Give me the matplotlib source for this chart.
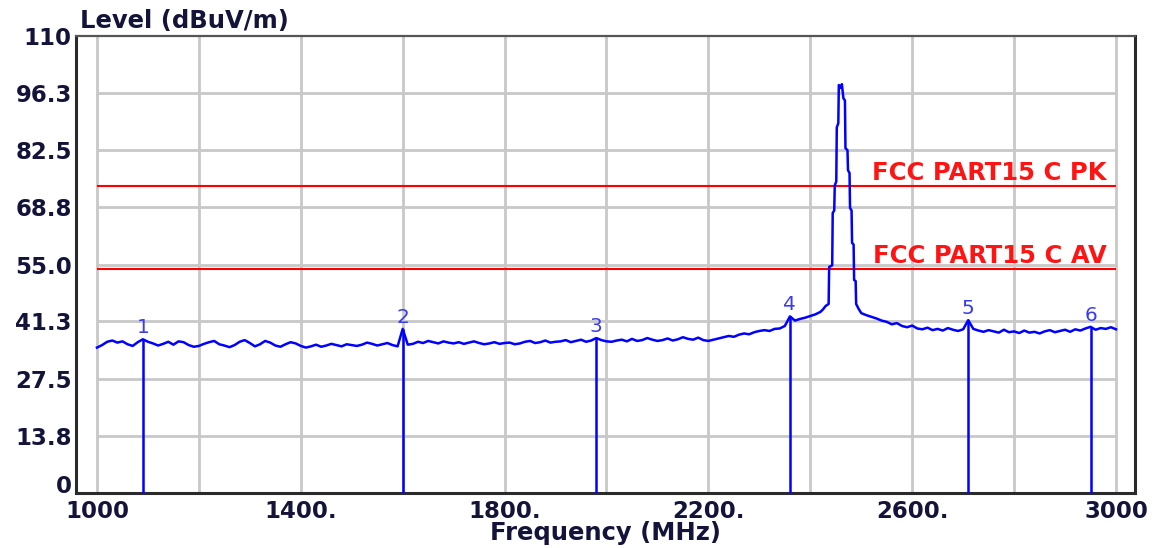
import numpy as np
import matplotlib
matplotlib.use('Agg')
import matplotlib.pyplot as plt

# limit lines (dBuV/m)
limit_names = ['FCC PART15 C PK', 'FCC PART15 C AV']
limit_levels = [74.0, 54.0]

# marker readings
marker_freq = [1090, 1600, 1980, 2360, 2710, 2950]
marker_level = [37.0, 39.5, 37.3, 42.5, 41.6, 40.0]

# sweep below the carrier, 10 MHz steps
low_freq = np.arange(1000, 2421, 10)
low_level = [
    35.0, 35.6, 36.4, 36.7, 36.2, 36.5, 35.8, 35.4, 36.3, 37.0,
    36.4, 36.0, 35.5, 35.9, 36.4, 35.7, 36.5, 36.3, 35.6, 35.2,
    35.4, 35.9, 36.3, 36.6, 35.8, 35.5, 35.1, 35.6, 36.4, 36.8,
    36.1, 35.3, 35.8, 36.6, 36.2, 35.5, 35.2, 35.8, 36.3, 36.0,
    35.4, 35.0, 35.3, 35.7, 35.2, 35.5, 35.9, 35.6, 35.3, 35.8,
    35.6, 35.4, 35.7, 36.2, 35.9, 35.5, 35.8, 36.1, 35.6, 35.3,
    39.5, 35.7, 35.9, 36.4, 36.1, 36.6, 36.3, 36.0, 36.5, 36.2,
    36.0, 36.3, 35.9, 36.2, 36.5, 36.1, 35.8, 36.0, 36.3, 35.9,
    36.1, 36.2, 35.8, 36.0, 36.4, 36.6, 36.1, 36.3, 36.7, 36.2,
    36.4, 36.5, 36.8, 36.3, 36.6, 36.9, 36.4, 36.7, 37.3, 36.8,
    36.5, 36.4, 36.7, 36.9, 36.5, 37.1, 36.6, 36.8, 37.3, 36.9,
    36.6, 36.8, 37.2, 36.7, 37.0, 37.5, 37.1, 36.9, 37.4, 36.8,
    36.6, 36.9, 37.2, 37.5, 37.8, 37.6, 38.1, 38.4, 38.2, 38.7,
    39.0, 39.2, 39.0, 39.5, 39.6, 40.2, 42.5, 41.5, 41.9, 42.2,
    42.6, 43.0, 43.6,
]

# 2.4 GHz carrier
peak_freq = [2425, 2430, 2436, 2437, 2443, 2444, 2447, 2448, 2451, 2452,
             2455, 2456, 2460, 2462, 2465, 2468, 2469, 2473, 2474, 2477,
             2478, 2481, 2482, 2485, 2486, 2489, 2490, 2495]
peak_level = [44.2, 45.0, 45.5, 54.4, 54.8, 67.4, 68.0, 74.0, 75.0, 88.0,
              89.0, 98.2, 97.5, 98.4, 95.0, 94.5, 83.0, 82.5, 77.7, 77.0,
              68.6, 68.0, 60.2, 59.8, 51.3, 51.0, 45.5, 44.3]

# sweep above the carrier, 10 MHz steps
high_freq = np.arange(2500, 3001, 10)
high_level = [
    43.3, 42.8, 42.4, 42.0, 41.5, 41.2, 40.6, 40.9, 40.2, 39.9,
    40.3, 39.6, 39.4, 39.8, 39.2, 39.5, 39.1, 39.7, 39.3, 39.0,
    39.4, 41.6, 39.5, 39.1, 38.8, 39.2, 38.9, 38.6, 39.3, 38.7,
    38.9, 38.5, 39.1, 38.6, 38.8, 38.4, 38.9, 39.2, 38.7, 39.0,
    39.3, 38.8, 39.4, 39.1, 39.6, 40.0, 39.3, 39.7, 39.5, 39.9,
    39.4,
]

y_ticks = [0, 13.8, 27.5, 41.3, 55.0, 68.8, 82.5, 96.3, 110]
y_tick_labels = ['0', '13.8', '27.5', '41.3', '55.0', '68.8', '82.5', '96.3', '110']
x_grid = list(range(1000, 3001, 200))
x_ticks = [1000, 1400, 1800, 2200, 2600, 3000]
x_tick_labels = ['1000', '1400.', '1800.', '2200.', '2600.', '3000']

text_col = '#14143a'
trace_col = '#0000ff'

freq = np.concatenate([low_freq, peak_freq, high_freq])
level = np.concatenate([low_level, peak_level, high_level])

fig = plt.figure(figsize=(11.61, 5.48), dpi=100)
W, H = 1161, 548
ax = fig.add_axes([76 / W, 1 - 493 / H, (1135 - 76) / W, (493 - 36) / H])
ax.set_xlim(958.8, 3037.3)
ax.set_ylim(0, 110)

# grid only spans the swept range
ax.vlines(x_grid, 0, 110, colors='#c8c8c8', lw=2, zorder=0)
ax.hlines(y_ticks[1:-1], 1000, 3000, colors='#c8c8c8', lw=2, zorder=0)

# limits
for name, lim in zip(limit_names, limit_levels):
    ax.hlines(lim, 1000, 3000, colors='#ff0000', lw=1.5, zorder=2)
    ax.text(2982, lim + 1.4, name, color='#ff1414', fontsize=17.5,
            fontweight='bold', ha='right', va='baseline', zorder=3)

ax.plot(freq, level, color=trace_col, lw=1.8, zorder=4)

# markers
for i, (f, lv) in enumerate(zip(marker_freq, marker_level)):
    ax.vlines(f, 0, lv, colors=trace_col, lw=1.8, zorder=5)
    ax.annotate(str(i + 1), (f, lv), xytext=(0, 4.5), textcoords='offset points',
                ha='center', va='baseline', color='#3a3af0', fontsize=14.5)

ax.set_yticks(y_ticks)
ax.set_yticklabels(y_tick_labels)
ax.set_xticks(x_ticks)
ax.set_xticklabels(x_tick_labels)
ax.tick_params(length=0, labelsize=16.5, labelcolor=text_col)
ax.tick_params(axis='y', pad=3)
ax.tick_params(axis='x', pad=5)
for lab in ax.get_xticklabels() + ax.get_yticklabels():
    lab.set_fontweight('bold')
# the 0 label sits on the axis line, clear of the x labels
ax.get_yticklabels()[0].set_verticalalignment('baseline')

for side in ['left', 'bottom', 'right']:
    ax.spines[side].set_linewidth(2.2)
    ax.spines[side].set_color('#2a2a2a')
ax.spines['top'].set_linewidth(1.6)
ax.spines['top'].set_color('#555555')

fig.text(80 / W, 1 - 28 / H, 'Level (dBuV/m)', fontsize=17.5, fontweight='bold',
         color=text_col, va='baseline', ha='left')
fig.text(606 / W, 1 - 540 / H, 'Frequency (MHz)', fontsize=17.5, fontweight='bold',
         color=text_col, va='baseline', ha='center')

fig.savefig('out.png', dpi=100)
